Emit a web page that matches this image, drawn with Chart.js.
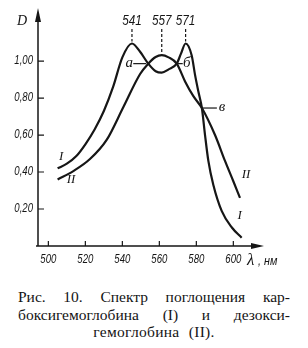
<!DOCTYPE html>
<html lang="ru">
<head>
<meta charset="UTF-8">
<title>Спектр поглощения</title>
<script src="https://cdn.jsdelivr.net/npm/chart.js"></script>
<style>
    body { margin: 0; background: #fff; }
    .janela { position: relative; width: 308px; height: 348px; overflow: hidden; }
    #spectrum { position: absolute; left: 0; top: 0; }
    .legenda {
        position: absolute; left: 18px; top: 288px; width: 272px;
        font: 15.5px/17.5px "Liberation Serif", "DejaVu Serif", serif; color: #141414;
    }
    .legenda .linha { text-align: justify; text-align-last: justify; }
    .legenda .ultima { text-align: center; word-spacing: 5px; letter-spacing: 0.3px; }
</style>
</head>
<body>
<div class="janela">
    <canvas id="spectrum" width="308" height="270"></canvas>
    <div class="legenda">
        <div class="linha">Рис. 10. Спектр поглощения кар-</div>
        <div class="linha">боксигемоглобина (I) и дезокси-</div>
        <div class="ultima">гемоглобина (II).</div>
    </div>
</div>

<script>
    // карбоксигемоглобин (I)
    const wlI = [505, 510, 515, 520, 525, 530, 535, 540, 545.2, 549.6, 554, 558, 561.3, 565, 569.4, 571.7, 574.2, 577.5, 579.3, 581.1, 583, 584.7, 586.5, 589.2, 593.7, 599.2, 604.5];
    const absI = [0.42, 0.445, 0.485, 0.55, 0.63, 0.73, 0.86, 1.02, 1.095, 1.05, 0.986, 0.945, 0.937, 0.955, 0.986, 1.04, 1.095, 1.03, 0.925, 0.835, 0.746, 0.60, 0.46, 0.33, 0.19, 0.10, 0.045];

    // дезоксигемоглобин (II)
    const wlII = [505, 513.5, 522.5, 531.6, 540.5, 549.6, 554, 558, 561.3, 565, 569.4, 573.9, 578.4, 583, 590.1, 595.5, 600, 603.6];
    const absII = [0.36, 0.405, 0.47, 0.575, 0.75, 0.93, 0.986, 1.022, 1.032, 1.02, 0.986, 0.89, 0.81, 0.746, 0.60, 0.46, 0.35, 0.26];

    const xTicks = [500, 520, 540, 560, 580, 600];
    const yTicks = [0.2, 0.4, 0.6, 0.8, 1.0];

    // максимумы и точки пересечения
    const peakLabels = ['541', '557', '571'];
    const peakWl = [545.2, 561.3, 574.2];
    const peakAbs = [1.095, 1.032, 1.095];
    const crossLabels = ['а', 'б', 'в'];
    const crossWl = [554, 569.4, 583];
    const crossAbs = [0.986, 0.986, 0.746];
    const curveLabels = ['I', 'II', 'II', 'I'];
    const curveLabelWl = [506.9, 512.3, 606.9, 603.4];
    const curveLabelAbs = [0.486, 0.357, 0.384, 0.162];

    const preto = '#161616';
    const numFont = '"Liberation Sans", Arimo, sans-serif';
    const serifFont = '"Liberation Serif", "DejaVu Serif", serif';

    const pontos = (xs, ys) => xs.map((x, i) => ({ x: x, y: ys[i] }));

    // texto estreito (a fonte do livro é condensada)
    function estreito(ctx, t, x, y, sx) {
        ctx.save();
        ctx.translate(x, y);
        ctx.scale(sx, 1);
        ctx.fillText(t, 0, 0);
        ctx.restore();
    }

    const extras = {
        id: 'extras',
        afterDraw(chart) {
            const ctx = chart.ctx;
            const a = chart.chartArea;
            const xs = chart.scales.x;
            const ys = chart.scales.y;
            ctx.save();
            ctx.strokeStyle = preto;
            ctx.fillStyle = preto;

            // eixos
            ctx.lineWidth = 1.5;
            ctx.beginPath();
            ctx.moveTo(a.left, a.bottom);
            ctx.lineTo(a.left, a.top + 6);
            ctx.moveTo(a.left - 2, a.bottom);
            ctx.lineTo(a.right - 6, a.bottom);
            ctx.stroke();
            ctx.beginPath();
            ctx.moveTo(a.left, a.top - 2);
            ctx.lineTo(a.left - 3, a.top + 12);
            ctx.lineTo(a.left + 3, a.top + 12);
            ctx.closePath();
            ctx.fill();
            ctx.beginPath();
            ctx.moveTo(a.right + 2, a.bottom);
            ctx.lineTo(a.right - 11, a.bottom - 3);
            ctx.lineTo(a.right - 11, a.bottom + 3);
            ctx.closePath();
            ctx.fill();

            // marcas internas
            ctx.lineWidth = 1.2;
            ctx.beginPath();
            yTicks.forEach(v => {
                const y = ys.getPixelForValue(v);
                ctx.moveTo(a.left, y);
                ctx.lineTo(a.left + 6, y);
            });
            xTicks.forEach(v => {
                const x = xs.getPixelForValue(v);
                ctx.moveTo(x, a.bottom);
                ctx.lineTo(x, a.bottom - 5);
            });
            ctx.stroke();

            // rótulos dos eixos
            ctx.font = 'italic 12px ' + numFont;
            ctx.textBaseline = 'middle';
            ctx.textAlign = 'right';
            yTicks.forEach(v => {
                estreito(ctx, v.toFixed(2).replace('.', ','), a.left - 5, ys.getPixelForValue(v), 0.8);
            });
            ctx.textAlign = 'center';
            xTicks.forEach(v => {
                estreito(ctx, String(v), xs.getPixelForValue(v), a.bottom + 14, 0.8);
            });

            // D e λ, нм
            ctx.textBaseline = 'alphabetic';
            ctx.textAlign = 'left';
            ctx.font = 'italic 14px ' + serifFont;
            ctx.fillText('D', 17, 25);
            ctx.font = 'italic 17px ' + serifFont;
            ctx.fillText('λ', 247, 265);
            ctx.font = 'italic 12px ' + numFont;
            estreito(ctx, ', нм', 258, 265, 0.9);

            // picos
            ctx.textAlign = 'center';
            ctx.textBaseline = 'middle';
            peakLabels.forEach((t, i) => {
                const x = xs.getPixelForValue(peakWl[i]);
                const yTop = ys.getPixelForValue(peakAbs[i]);
                ctx.font = 'italic 15px ' + numFont;
                estreito(ctx, t, x, 21, 0.78);
                ctx.save();
                ctx.lineWidth = 1.2;
                ctx.setLineDash([3, 2]);
                ctx.beginPath();
                ctx.moveTo(x, 29);
                ctx.lineTo(x, yTop - 2);
                ctx.stroke();
                ctx.restore();
            });

            // pontos de cruzamento а, б, в
            ctx.font = 'italic 15px ' + serifFont;
            ctx.lineWidth = 1.2;
            crossLabels.forEach((t, i) => {
                const cx = xs.getPixelForValue(crossWl[i]);
                const cy = ys.getPixelForValue(crossAbs[i]);
                ctx.beginPath();
                if (i === 0) {
                    ctx.moveTo(cx - 15, cy);
                    ctx.lineTo(cx - 2, cy);
                    ctx.stroke();
                    ctx.fillText(t, cx - 19, cy - 1);
                } else if (i === 1) {
                    ctx.moveTo(cx + 1, cy);
                    ctx.lineTo(cx + 6, cy);
                    ctx.stroke();
                    ctx.fillText(t, cx + 10, cy - 1);
                } else {
                    ctx.moveTo(cx + 1, cy);
                    ctx.lineTo(cx + 15, cy);
                    ctx.stroke();
                    ctx.fillText(t, cx + 20, cy - 1);
                }
            });

            // I / II
            ctx.font = 'italic 13px ' + serifFont;
            curveLabels.forEach((t, i) => {
                ctx.fillText(t, xs.getPixelForValue(curveLabelWl[i]), ys.getPixelForValue(curveLabelAbs[i]));
            });

            ctx.restore();
        }
    };

    new Chart(document.getElementById('spectrum'), {
        type: 'line',
        data: {
            datasets: [
                { label: 'I', data: pontos(wlI, absI) },
                { label: 'II', data: pontos(wlII, absII) }
            ]
        },
        options: {
            responsive: false,
            animation: false,
            layout: { padding: { top: 10, right: 46, left: 0, bottom: 0 } },
            elements: {
                line: { borderColor: preto, borderWidth: 2.2, cubicInterpolationMode: 'monotone', fill: false },
                point: { radius: 0 }
            },
            plugins: {
                legend: { display: false },
                tooltip: { enabled: false }
            },
            scales: {
                x: {
                    type: 'linear',
                    min: 494.4,
                    max: 615.5,
                    grid: { display: false },
                    border: { display: false },
                    ticks: { display: false },
                    afterBuildTicks: s => { s.ticks = xTicks.map(v => ({ value: v })); },
                    afterFit: s => { s.height = 24; }
                },
                y: {
                    min: 0,
                    max: 1.276,
                    grid: { display: false },
                    border: { display: false },
                    ticks: { display: false },
                    afterBuildTicks: s => { s.ticks = yTicks.map(v => ({ value: v })); },
                    afterFit: s => { s.width = 38; }
                }
            }
        },
        plugins: [extras]
    });
</script>
</body>
</html>
